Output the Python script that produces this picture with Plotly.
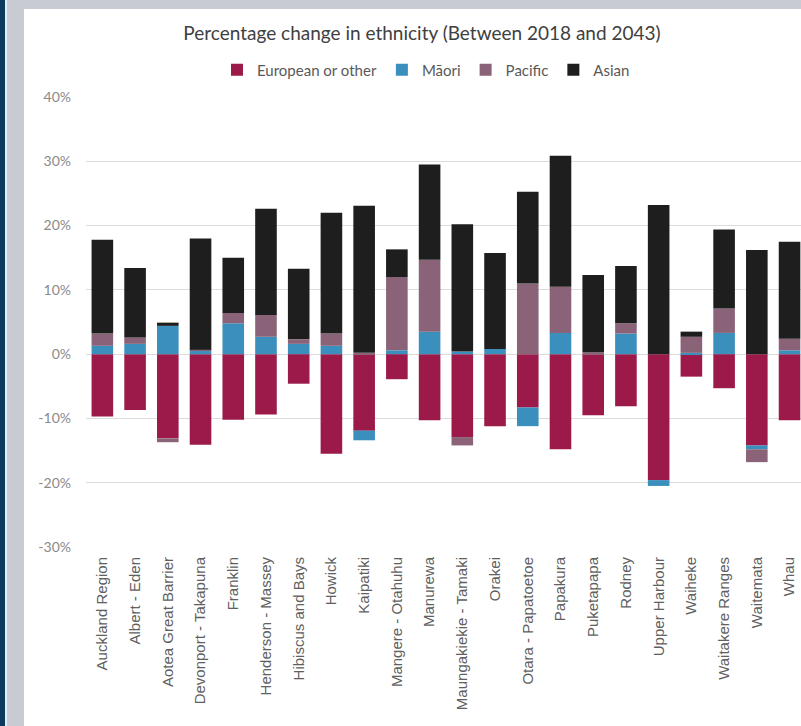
import plotly.graph_objects as go

categories = ["Auckland Region", "Albert - Eden", "Aotea Great Barrier", "Devonport - Takapuna",
              "Franklin", "Henderson - Massey", "Hibiscus and Bays", "Howick", "Kaipatiki",
              "Mangere - Otahuhu", "Manurewa", "Maungakiekie - Tamaki", "Orakei",
              "Otara - Papatoetoe", "Papakura", "Puketapapa", "Rodney", "Upper Harbour",
              "Waiheke", "Waitakere Ranges", "Waitemata", "Whau"]

european = [-9.7, -8.7, -13.1, -14.1, -10.2, -9.4, -4.6, -15.5, -11.9, -3.9, -10.3,
            -12.9, -11.2, -8.3, -14.8, -9.5, -8.1, -19.6, -3.5, -5.3, -14.2, -10.3]
maori = [1.3, 1.6, 4.4, 0.5, 4.8, 2.7, 1.6, 1.3, -1.5, 0.6, 3.5,
         0.4, 0.8, -2.9, 3.3, 0.0, 3.2, -0.9, 0.2, 3.3, -0.6, 0.6]
pacific = [1.9, 1.0, -0.6, 0.2, 1.6, 3.4, 0.7, 1.9, 0.2, 11.4, 11.2,
           -1.3, 0.0, 11.0, 7.2, 0.3, 1.6, 0.0, 2.5, 3.8, -2.0, 1.8]
asian = [14.6, 10.8, 0.5, 17.3, 8.6, 16.5, 11.0, 18.8, 22.9, 4.3, 14.8,
         19.8, 14.95, 14.25, 20.35, 12.0, 8.9, 23.2, 0.8, 12.3, 16.2, 15.1]

series_names = ["European or other", "Māori", "Pacific", "Asian"]
series_colors = ["#9c1a4a", "#3a8fbd", "#8a6378", "#1e1e1e"]

y_tick_values = [-30, -20, -10, 0, 10, 20, 30, 40]
y_tick_labels = ["-30%", "-20%", "-10%", "0%", "10%", "20%", "30%", "40%"]

title_text = "Percentage change in ethnicity (Between 2018 and 2043)"

W, H = 801, 726
ML, MR, MT, MB = 86, 0, 97, 179
PW, PH = W - ML - MR, H - MT - MB


def px_x(p):
    return (p - ML) / PW


def px_y(p):
    return (H - MB - p) / PH


fig = go.Figure()
for name, vals, col in zip(series_names, [european, maori, pacific, asian], series_colors):
    fig.add_trace(go.Bar(x=categories, y=vals, name=name, marker=dict(color=col, line=dict(width=0))))

shapes = [
    dict(type="rect", xref="paper", yref="paper", x0=px_x(24), x1=px_x(W + 5),
         y0=px_y(H + 5), y1=px_y(9), fillcolor="white", line=dict(width=0), layer="below"),
    dict(type="rect", xref="paper", yref="paper", x0=px_x(-5), x1=px_x(5),
         y0=px_y(H + 5), y1=px_y(-5), fillcolor="#0b3a5e", line=dict(width=0), layer="below"),
    dict(type="rect", xref="paper", yref="paper", x0=px_x(5), x1=px_x(7),
         y0=px_y(H + 5), y1=px_y(-5), fillcolor="#e4ebf2", line=dict(width=0), layer="below"),
]

fig.update_layout(
    width=W, height=H,
    margin=dict(l=ML, r=MR, t=MT, b=MB, pad=0),
    paper_bgcolor="#c8ccd2",
    plot_bgcolor="white",
    barmode="relative",
    bargap=0.34,
    shapes=shapes,
    font=dict(family="Lato", color="#595959"),
    title=dict(text=title_text, x=422 / W, xref="container", xanchor="center",
               y=1 - 33 / H, yref="container", yanchor="middle",
               font=dict(family="Lato", size=19, color="#404040")),
    legend=dict(orientation="h", x=px_x(426), xanchor="center", y=px_y(70), yanchor="middle",
                font=dict(family="Lato", size=15, color="#595959"), bgcolor="rgba(0,0,0,0)",
                itemwidth=30, traceorder="normal"),
    xaxis=dict(range=[-0.5, 21.35], tickangle=-90, showgrid=False, showline=False,
               ticks="", tickfont=dict(family="Liberation Sans", size=15, color="#606060"),
               ticklabelstandoff=6),
    yaxis=dict(range=[-30, 40], tickvals=y_tick_values, ticktext=y_tick_labels,
               showgrid=True, gridcolor="#dcdcdc", gridwidth=1, zeroline=False,
               showline=False, ticks="",
               tickfont=dict(family="Lato", size=14, color="#8a8a8a"),
               ticklabelstandoff=14),
)

fig.write_html("out.html")
